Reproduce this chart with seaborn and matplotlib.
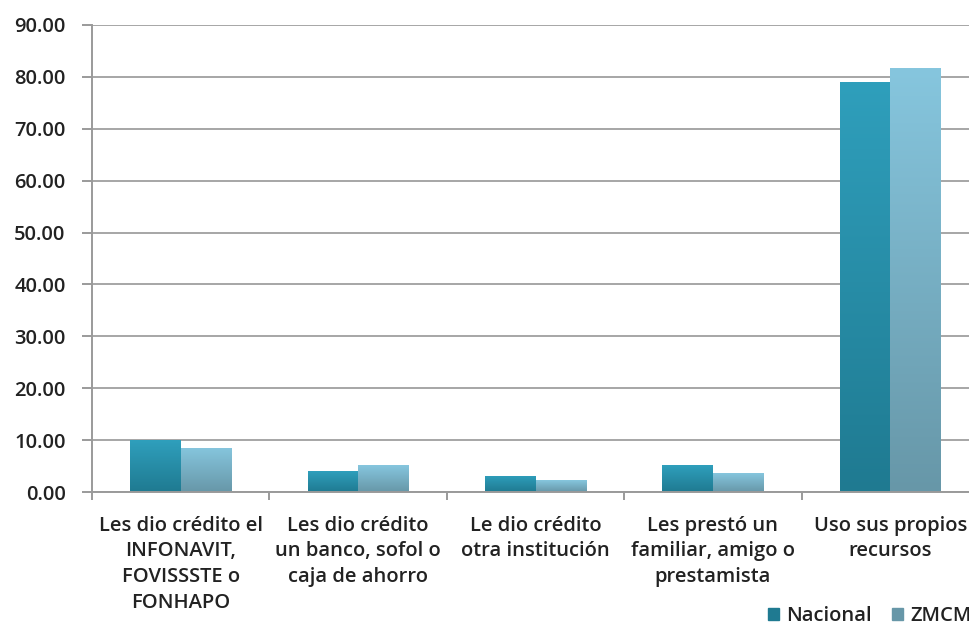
import numpy as np
import pandas as pd
import seaborn as sns
import matplotlib.pyplot as plt
from matplotlib.colors import LinearSegmentedColormap
from matplotlib.patches import Rectangle

# Data
categorias = [
    "Les dio crédito el\nINFONAVIT,\nFOVISSSTE o\nFONHAPO",
    "Les dio crédito\nun banco, sofol o\ncaja de ahorro",
    "Le dio crédito\notra institución",
    "Les prestó un\nfamiliar, amigo o\nprestamista",
    "Uso sus propios\nrecursos",
]
nacional = [10.0, 4.0, 3.1, 5.2, 79.0]
zmcm = [8.5, 5.2, 2.3, 3.6, 81.7]
series = ["Nacional", "ZMCM"]
y_ticks = [0, 10, 20, 30, 40, 50, 60, 70, 80, 90]

df = pd.DataFrame({
    "cat": categorias * 2,
    "serie": [series[0]] * 5 + [series[1]] * 5,
    "valor": nacional + zmcm,
})

sns.set_style("white")
plt.rcParams["font.family"] = ["Open Sans", "DejaVu Sans"]

colors = {"Nacional": ("#2f9fbc", "#1f7a91"), "ZMCM": ("#86c6de", "#6797a8")}
txt = "#222222"
fs = 14.5

fig = plt.figure(figsize=(9.7, 6.26), dpi=100)
ax = fig.add_axes([92 / 970, 134 / 626, 887 / 970, 467 / 626])

sns.barplot(data=df, x="cat", y="valor", hue="serie", order=categorias,
            hue_order=series, palette={s: colors[s][0] for s in series},
            width=0.57, gap=0, ax=ax, legend=False)

# gradient fill on bars
for container, s in zip(ax.containers, series):
    cmap = LinearSegmentedColormap.from_list(s, [colors[s][1], colors[s][0]])
    for p in container.patches:
        x0, y0 = p.get_x(), p.get_y()
        w, h = p.get_width(), p.get_height()
        grad = np.linspace(0, 1, 256).reshape(-1, 1)
        im = ax.imshow(grad, extent=[x0, x0 + w, y0, y0 + h], origin="lower",
                       cmap=cmap, aspect="auto", zorder=2)
        im.set_clip_path(p)
        p.set_facecolor("none")
        p.set_edgecolor("none")
        p.set_zorder(2)
ax.set_xlim(-0.5, 4.5)
ax.set_ylim(0, 90)

ax.set_yticks(y_ticks)
ax.set_yticklabels([f"{v:.2f}" for v in y_ticks], fontweight="semibold")
ax.yaxis.grid(True, color="#a6a6a6", lw=1.4)
ax.set_axisbelow(True)
ax.set_xlabel("")
ax.set_ylabel("")

for side in ["top", "right"]:
    ax.spines[side].set_visible(False)
for side in ["left", "bottom"]:
    ax.spines[side].set_color("#9a9a9a")
    ax.spines[side].set_linewidth(1.4)

ax.tick_params(axis="y", left=True, length=7, width=1.4, color="#9a9a9a",
               labelsize=fs, labelcolor=txt, pad=12)
ax.set_xticks(range(len(categorias)))
ax.set_xticklabels(categorias, fontsize=fs, color=txt, fontweight="semibold",
                   linespacing=1.38, va="top")
ax.tick_params(axis="x", length=0, pad=17)
ax.set_xticks([i - 0.5 for i in range(len(categorias) + 1)], minor=True)
ax.tick_params(axis="x", which="minor", bottom=True, length=6, width=1.4,
               color="#9a9a9a")

handles = [Rectangle((0, 0), 1, 1, color=colors[s][1]) for s in series]
fig.legend(handles, series, loc="center right", bbox_to_anchor=(1.02, 0.016),
           ncol=2, frameon=False, prop={"size": fs, "weight": "semibold"},
           handlelength=0.55, handleheight=0.55, handletextpad=0.35,
           columnspacing=1.0, labelcolor=txt)

fig.savefig("out.png", dpi=100)
